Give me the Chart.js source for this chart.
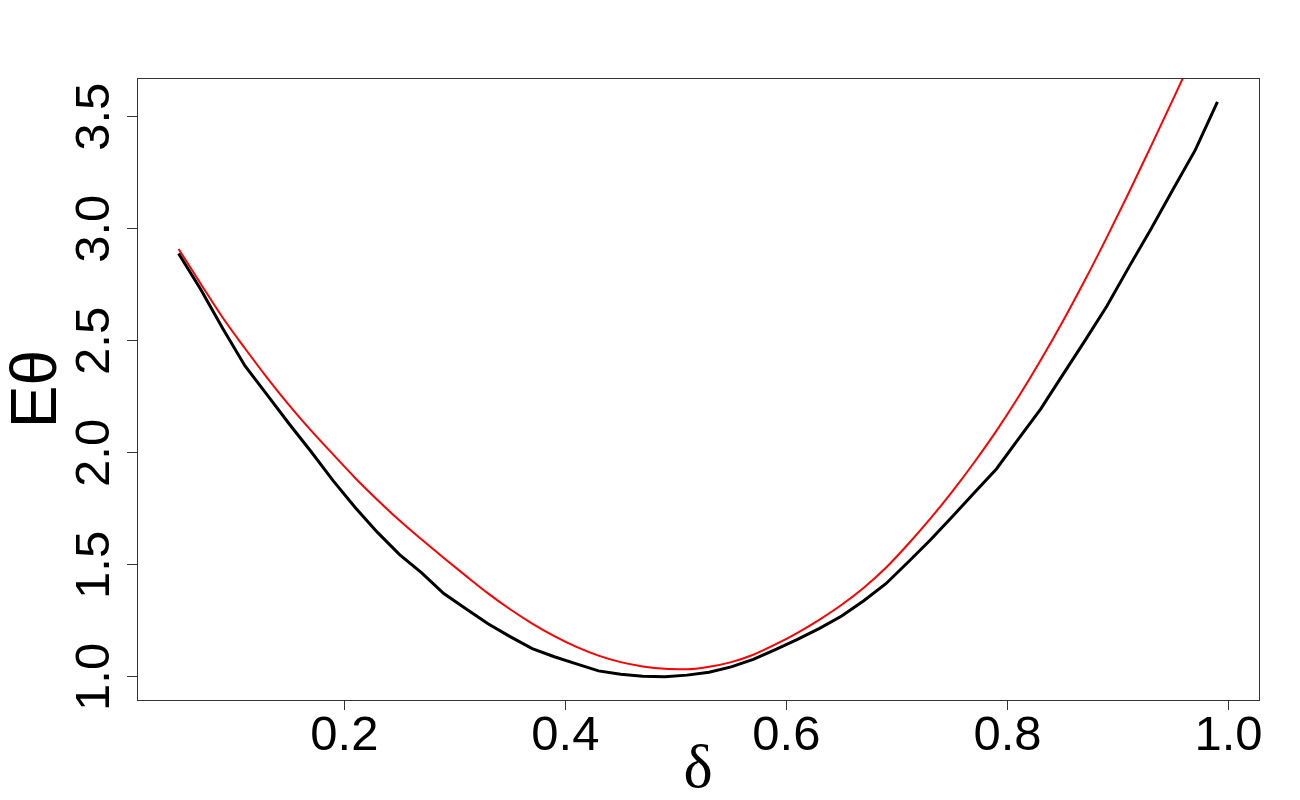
<!DOCTYPE html>
<html><head><meta charset="utf-8">
<script src="https://cdn.jsdelivr.net/npm/chart.js@4.4.1/dist/chart.umd.min.js"></script>
<style>html,body{margin:0;padding:0;background:#fff}</style>
</head><body>
<canvas id="c" width="1300" height="800" style="display:block;width:1300px;height:800px"></canvas>
<script>
// delta grid for the simulated (black) curve
const deltaBlack = [0.05,0.07,0.09,0.11,0.13,0.15,0.17,0.19,0.21,0.23,0.25,0.27,0.29,0.31,0.33,0.35,0.37,0.39,0.41,0.43,0.45,0.47,0.49,0.51,0.53,0.55,0.57,0.59,0.61,0.63,0.65,0.67,0.69,0.71,0.73,0.75,0.77,0.79,0.81,0.83,0.85,0.87,0.89,0.91,0.93,0.95,0.97,0.99];
const thetaBlack = [2.89,2.73,2.555,2.389,2.26,2.13,2.005,1.875,1.755,1.645,1.546,1.464,1.372,1.304,1.237,1.180,1.126,1.090,1.058,1.027,1.012,1.003,1.001,1.008,1.021,1.045,1.078,1.122,1.168,1.217,1.272,1.340,1.416,1.512,1.610,1.715,1.822,1.928,2.062,2.195,2.348,2.500,2.655,2.83,3.00,3.178,3.352,3.567];
// delta grid for the theoretical (red) curve
const deltaRed = [0.05,0.07,0.09,0.11,0.13,0.15,0.17,0.19,0.21,0.23,0.25,0.27,0.29,0.31,0.33,0.35,0.37,0.39,0.41,0.43,0.45,0.47,0.49,0.51,0.53,0.55,0.57,0.59,0.61,0.63,0.65,0.67,0.69,0.71,0.73,0.75,0.77,0.79,0.81,0.83,0.85,0.87,0.89,0.91,0.93,0.95,0.97,0.99];
const thetaRed = [2.91,2.755,2.603,2.467,2.336,2.213,2.099,1.992,1.887,1.790,1.698,1.613,1.531,1.451,1.373,1.302,1.238,1.182,1.134,1.095,1.066,1.047,1.036,1.034,1.045,1.066,1.099,1.145,1.197,1.256,1.322,1.398,1.487,1.592,1.705,1.827,1.958,2.098,2.250,2.413,2.586,2.770,2.963,3.163,3.370,3.580,3.792,4.005];
const xTicks = [0.2,0.4,0.6,0.8,1.0];
const yTicks = [1.0,1.5,2.0,2.5,3.0,3.5];
const xTitle = 'δ';
const yTitle = 'Eθ';
const xRange = [0.0124, 1.0276];
const yRange = [0.897, 3.673];

const toPts = (xs, ys) => xs.map((x, i) => ({x: x, y: ys[i]}));

const boxPlugin = {
  id: 'box',
  afterDraw(chart) {
    const a = chart.chartArea, ctx = chart.ctx;
    ctx.save();
    ctx.strokeStyle = '#333';
    ctx.lineWidth = 1;
    ctx.strokeRect(Math.round(a.left) + 0.5, Math.round(a.top) + 0.5, Math.round(a.right - a.left), Math.round(a.bottom - a.top));
    ctx.restore();
  }
};

new Chart(document.getElementById('c'), {
  type: 'line',
  data: {
    datasets: [
      {data: toPts(deltaBlack, thetaBlack), borderColor: '#000', borderWidth: 3, pointRadius: 0, tension: 0, fill: false},
      {data: toPts(deltaRed, thetaRed), borderColor: '#ff0000', borderWidth: 2, pointRadius: 0, cubicInterpolationMode: 'monotone', fill: false}
    ]
  },
  options: {
    responsive: false,
    devicePixelRatio: 1,
    animation: false,
    layout: {padding: {top: 78, right: 41, left: 0, bottom: 0}},
    plugins: {legend: {display: false}, tooltip: {enabled: false}},
    scales: {
      x: {
        type: 'linear', min: xRange[0], max: xRange[1],
        afterBuildTicks: s => { s.ticks = xTicks.map(v => ({value: v})); },
        afterFit: s => { s.height = 100; },
        grid: {drawOnChartArea: false, drawTicks: true, tickLength: 10, tickColor: '#333', color: '#333'},
        border: {display: true, color: '#333', width: 1},
        ticks: {color: '#000', font: {family: 'Liberation Sans', size: 49}, padding: -3, maxRotation: 0, minRotation: 0,
                callback: v => Number(v).toFixed(1)},
        title: {display: true, text: xTitle, color: '#000', font: {family: 'Liberation Serif', size: 62}, padding: {top: 0, bottom: -8}}
      },
      y: {
        type: 'linear', min: yRange[0], max: yRange[1],
        afterBuildTicks: s => { s.ticks = yTicks.map(v => ({value: v})); },
        afterFit: s => { s.width = 137; },
        grid: {drawOnChartArea: false, drawTicks: true, tickLength: 10, tickColor: '#333', color: '#333'},
        border: {display: true, color: '#333', width: 1},
        ticks: {color: '#000', font: {family: 'Liberation Sans', size: 49}, padding: -3, minRotation: 90, maxRotation: 90,
                crossAlign: 'center', callback: v => Number(v).toFixed(1)},
        title: {display: true, text: yTitle, color: '#000', font: {family: 'Liberation Sans', size: 64}, padding: {top: 0, bottom: 0}}
      }
    }
  },
  plugins: [boxPlugin]
});
</script>
</body></html>
